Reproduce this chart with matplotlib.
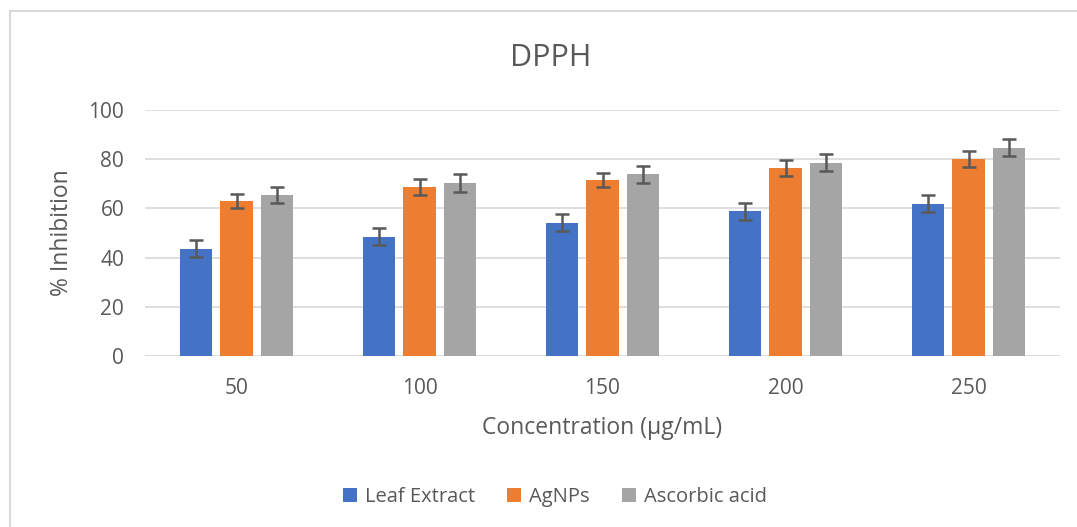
import matplotlib
matplotlib.use("Agg")
import matplotlib.pyplot as plt
import numpy as np
from matplotlib.lines import Line2D

categories = ["50", "100", "150", "200", "250"]
series_names = ["Leaf Extract", "AgNPs", "Ascorbic acid"]
leaf = [43.6, 48.5, 54.2, 58.8, 61.9]
agnps = [63.0, 68.7, 71.4, 76.5, 80.1]
ascorbic = [65.6, 70.3, 73.8, 78.6, 84.7]
leaf_err = [3.5, 3.5, 3.4, 3.5, 3.5]
agnps_err = [3.0, 3.2, 2.9, 3.2, 3.1]
ascorbic_err = [3.3, 3.5, 3.5, 3.5, 3.5]

colors = ["#4472C4", "#ED7D31", "#A5A5A5"]
text_color = "#595959"
plt.rcParams['font.family'] = ['Open Sans', 'DejaVu Sans']

fig = plt.figure(figsize=(10.77, 5.27), dpi=100)
# outer chart border (only left and top visible)
fig.lines.append(Line2D([10/1077, 10/1077], [0, 1 - 11/527], transform=fig.transFigure,
                        color="#D9D9D9", linewidth=1.5))
fig.lines.append(Line2D([10/1077, 1], [1 - 11/527, 1 - 11/527], transform=fig.transFigure,
                        color="#D9D9D9", linewidth=1.5))
ax = fig.add_axes([145/1077, 171/527, 915/1077, 246/527])

x = np.arange(len(categories))
w = 0.175
step = 0.22
data = [leaf, agnps, ascorbic]
errs = [leaf_err, agnps_err, ascorbic_err]
for i, (vals, err, c, name) in enumerate(zip(data, errs, colors, series_names)):
    ax.bar(x + (i - 1) * step, vals, w, color=c, label=name, zorder=3,
           yerr=err, error_kw=dict(ecolor="#595959", elinewidth=1.8, capsize=5, capthick=1.8, zorder=4))

ax.set_xlim(-0.5, len(categories) - 0.5)
ax.set_ylim(0, 100)
ax.set_yticks(range(0, 101, 20))
ax.set_xticks(x)
ax.set_xticklabels(categories)
ax.grid(axis="y", color="#D9D9D9", linewidth=1.2, zorder=0)
for s in ["top", "right", "left", "bottom"]:
    ax.spines[s].set_visible(False)
ax.axhline(0, color="#D9D9D9", linewidth=1.2, zorder=1)
ax.tick_params(axis="both", length=0, labelsize=15, colors=text_color)
ax.tick_params(axis="x", pad=16)
ax.tick_params(axis="y", pad=15)

fig.text(551/1077, 1 - 58/527, "DPPH", ha="center", va="center", fontsize=22, color=text_color)
fig.text(602/1077, 1 - 428/527, "Concentration (μg/mL)", ha="center", va="center", fontsize=16.5, color=text_color)
fig.text(62/1077, 1 - 233/527, "% Inhibition", ha="center", va="center", rotation=90, fontsize=16.5, color=text_color)

handles, labels = ax.get_legend_handles_labels()
leg = fig.legend(handles, labels, loc="center", bbox_to_anchor=(555/1077, 1 - 497/527), ncol=3,
                 frameon=False, fontsize=14.5, handlelength=0.7, handleheight=0.7,
                 columnspacing=1.6, handletextpad=0.4)
for t in leg.get_texts():
    t.set_color(text_color)

fig.savefig("out.png", dpi=100)
